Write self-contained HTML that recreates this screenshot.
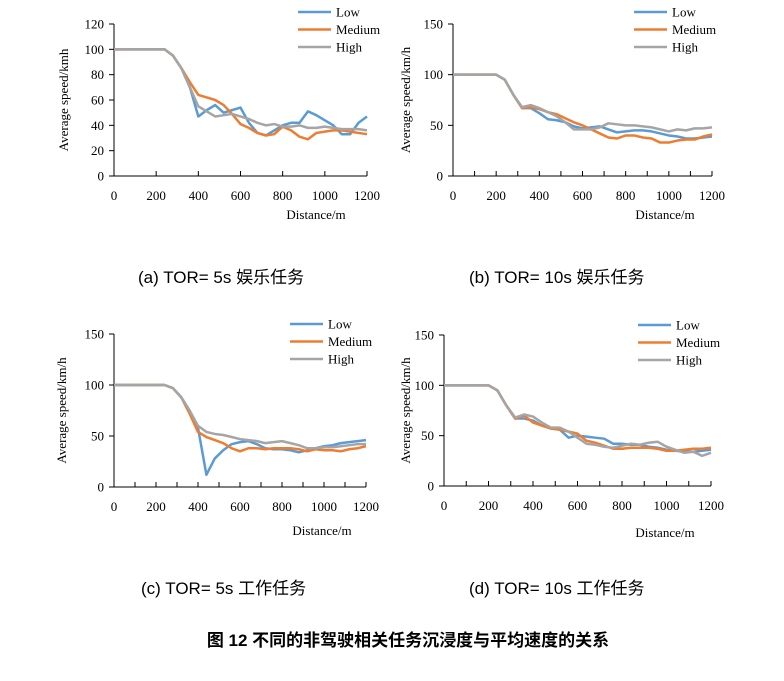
<!DOCTYPE html>
<html><head><meta charset="utf-8"><style>
body{margin:0;background:#fff;width:784px;height:681px;overflow:hidden}
svg{display:block}
.t{font-family:"Liberation Serif",serif;font-size:13px;fill:#000}
.c{font-family:"Liberation Sans","Noto Sans CJK SC",sans-serif;font-size:17px;fill:#000}
</style></head><body>
<svg id="chart" width="784" height="681" xmlns="http://www.w3.org/2000/svg">
<text class="c" x="138" y="283">(a) TOR= 5s  娱乐任务</text>
<text class="c" x="469" y="283">(b) TOR= 10s 娱乐任务</text>
<text class="c" x="141" y="594">(c) TOR= 5s  工作任务</text>
<text class="c" x="469" y="594">(d) TOR= 10s 工作任务</text>
<text x="408" y="646" text-anchor="middle" font-weight="bold" style="font-family:'Liberation Sans','Noto Sans CJK SC',sans-serif;font-size:17px">图 12  不同的非驾驶相关任务沉浸度与平均速度的关系</text>
</svg>
<script>
const dist=[0,40,80,120,160,200,240,280,320,360,400,440,480,520,560,600,640,680,720,760,800,840,880,920,960,1000,1040,1080,1120,1160,1200];
const seriesNames=["Low","Medium","High"];
const aLow=[100,100,100,100,100,100,100,95,85,70,47,52,56,50,52,54,42,34,32,36,40,42,42,51,48,44,40,33,33,42,47];
const aMed=[100,100,100,100,100,100,100,95,85,74,64,62,60,56,49,41,38,34,32,33,39,36,31,29,34,35,36,36,35,34,33];
const aHigh=[100,100,100,100,100,100,100,95,85,70,55,51,47,48,49,47,45,42,40,41,39,39,40,38,38,39,38,37,37,37,36];
const bLow=[100,100,100,100,100,100,95,80,67,67,62,56,55,53,49,47,48,49,46,43,44,45,45,44,42,40,39,37,37,38,39];
const bMed=[100,100,100,100,100,100,95,80,67,68,66,63,61,57,53,50,46,42,38,37,40,40,38,37,33,33,35,36,36,39,41];
const bHigh=[100,100,100,100,100,100,95,80,68,70,67,63,59,53,46,46,46,48,52,51,50,50,49,48,46,44,46,45,47,47,48];
const cLow=[100,100,100,100,100,100,100,97,88,75,58,12,28,36,42,44,45,42,38,37,37,36,34,36,38,40,41,43,44,45,46];
const cMed=[100,100,100,100,100,100,100,97,88,72,54,49,46,43,38,35,38,38,37,38,38,38,37,35,37,36,36,35,37,38,40];
const cHigh=[100,100,100,100,100,100,100,97,88,75,60,54,52,51,49,47,46,45,43,44,45,43,41,38,38,39,39,40,41,42,42];
const dLow=[100,100,100,100,100,100,95,80,67,67,65,60,58,56,48,50,49,48,47,42,42,41,41,39,38,36,35,34,34,35,36];
const dMed=[100,100,100,100,100,100,95,80,67,70,63,60,57,56,54,52,45,43,40,37,37,38,38,38,37,35,35,36,37,37,38];
const dHigh=[100,100,100,100,100,100,95,80,68,71,69,63,58,58,54,48,42,41,39,38,40,42,41,43,44,39,36,33,34,30,33];
const xTicks=[0,200,400,600,800,1000,1200];
const yTicksA=[0,20,40,60,80,100,120];
const yTicksB=[0,50,100,150];
const colors=["#5B9BD5","#ED7D31","#A5A5A5"];
const NS="http://www.w3.org/2000/svg";
const svg=document.getElementById('chart');
function mk(tag,attrs,parent){const e=document.createElementNS(NS,tag);for(const k in attrs)e.setAttribute(k,attrs[k]);(parent||svg).appendChild(e);return e;}
const panels=[
 {id:"a",x0:114,x1:367,y0:176,y1:24,ymax:120,yt:yTicksA,minor:200,yl:"Average speed/kmh",ylx:68,xtx:316,xty:219,data:[aLow,aMed,aHigh],lg:{x:298,y:12}},
 {id:"b",x0:453,x1:712,y0:176,y1:24,ymax:150,yt:yTicksB,minor:100,yl:"Average speed/km/h",ylx:410,xtx:665,xty:219,data:[bLow,bMed,bHigh],lg:{x:634,y:12}},
 {id:"c",x0:114,x1:366,y0:487,y1:334,ymax:150,yt:yTicksB,minor:100,yl:"Average speed/km/h",ylx:66,xtx:322,xty:535,data:[cLow,cMed,cHigh],lg:{x:290,y:324}},
 {id:"d",x0:444,x1:711,y0:486,y1:335,ymax:150,yt:yTicksB,minor:100,yl:"Average speed/km/h",ylx:410,xtx:665,xty:537,data:[dLow,dMed,dHigh],lg:{x:638,y:325}}
];
panels.forEach(p=>{
 const g=mk('g',{});
 
 
 const X=v=>p.x0+(v/1200)*(p.x1-p.x0);
 const Y=v=>p.y0-(v/p.ymax)*(p.y0-p.y1);
 const ax=mk('path',{d:`M${p.x0},${p.y1}V${p.y0}H${p.x1}`,stroke:"#000",fill:"none","stroke-width":1},g);
 
 
 for(let v=0;v<=1200;v+=p.minor){mk('line',{x1:X(v),x2:X(v),y1:p.y0,y2:p.y0-5,stroke:"#000"},g);}
 xTicks.forEach(v=>{const t=mk('text',{class:"t",x:X(v),y:p.y0+24,"text-anchor":"middle"},g);t.textContent=v;
  
  });
 p.yt.forEach(v=>{mk('line',{x1:p.x0-5,x2:p.x0,y1:Y(v),y2:Y(v),stroke:"#000"},g);
  const t=mk('text',{class:"t",x:p.x0-10,y:Y(v)+4.5,"text-anchor":"end"},g);t.textContent=v;
  
  });
 const yt=mk('text',{class:"t",x:0,y:0,"text-anchor":"middle",transform:`translate(${p.ylx},${(p.y0+p.y1)/2}) rotate(-90)`},g);yt.textContent=p.yl;
 
 
 const xt=mk('text',{class:"t",x:p.xtx,y:p.xty,"text-anchor":"middle"},g);xt.textContent="Distance/m";
 
 
 p.data.forEach((s,i)=>{
  const pl=mk('polyline',{points:s.map((v,j)=>X(dist[j])+","+Y(v)).join(" "),fill:"none",stroke:colors[i],"stroke-width":2.5,"stroke-linejoin":"round"},g);
  
  
  const ly=p.lg.y+i*17.5;
  const ll=mk('line',{x1:p.lg.x,x2:p.lg.x+33,y1:ly,y2:ly,stroke:colors[i],"stroke-width":2.5},g);
  
  
  const lt=mk('text',{class:"t",x:p.lg.x+38,y:ly+4.5},g);lt.textContent=seriesNames[i];
  
  
 });
});
</script>
</body></html>
